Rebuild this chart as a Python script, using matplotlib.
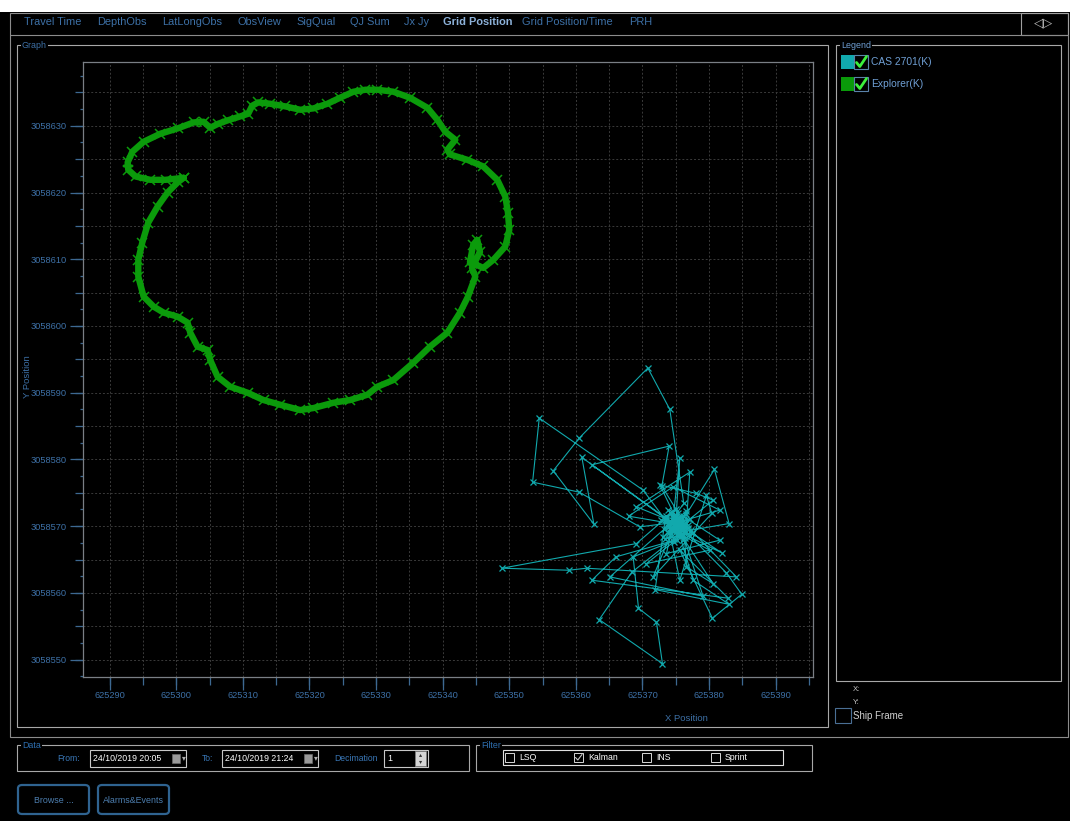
import numpy as np
import matplotlib.pyplot as plt
from matplotlib.patches import Rectangle, FancyBboxPatch
from matplotlib.lines import Line2D
from matplotlib.ticker import MultipleLocator, FormatStrFormatter

plt.rcParams['font.family'] = ['Liberation Sans', 'DejaVu Sans']

# Explorer(K) track, easting / northing in metres
exp_e = [
    625301.1, 625298.4, 625296.1, 625293.9, 625292.8, 625292.7, 625293.4, 625295.1, 625297.6, 625300.2,
    625302.6, 625304.1, 625305.1, 625306.3, 625307.7, 625309.6, 625310.8, 625311.4, 625312.3, 625314.1,
    625316.4, 625318.6, 625320.6, 625322.7, 625324.6, 625326.6, 625328.4, 625330.2, 625332.6, 625335.1,
    625337.7, 625339.2, 625340.4, 625341.9, 625340.7, 625341.1, 625343.7, 625346.1, 625348.2, 625349.4,
    625349.8, 625350.0, 625349.4, 625347.6, 625346.1, 625344.1, 625344.6, 625345.2, 625345.6, 625344.4,
    625344.9, 625343.8, 625342.6, 625340.7, 625338.1, 625335.6, 625332.6, 625330.2, 625328.7, 625326.1,
    625323.6, 625320.6, 625318.6, 625315.6, 625313.1, 625310.7, 625308.1, 625306.2, 625305.1, 625304.7,
    625303.2, 625302.1, 625301.7, 625300.2, 625298.1, 625296.6, 625295.1, 625294.3, 625294.3, 625294.9,
    625295.8, 625297.2, 625298.7, 625300.2, 625301.1]
exp_n = [
    3058622.2, 3058621.9, 3058621.9, 3058622.4, 3058623.4, 3058624.5, 3058626.1, 3058627.6, 3058628.8, 3058629.6,
    3058630.5, 3058630.6, 3058629.7, 3058630.3, 3058630.8, 3058631.4, 3058631.8, 3058633.0, 3058633.5, 3058633.3,
    3058632.9, 3058632.4, 3058632.6, 3058633.3, 3058634.2, 3058635.1, 3058635.4, 3058635.4, 3058635.1, 3058634.2,
    3058632.7, 3058630.9, 3058629.1, 3058627.9, 3058626.4, 3058625.7, 3058624.9, 3058623.9, 3058621.9, 3058619.4,
    3058617.0, 3058614.4, 3058611.9, 3058609.9, 3058608.7, 3058609.6, 3058612.2, 3058612.9, 3058611.1, 3058608.7,
    3058607.4, 3058604.4, 3058602.0, 3058599.0, 3058596.9, 3058594.5, 3058591.9, 3058590.9, 3058589.7, 3058588.9,
    3058588.5, 3058587.7, 3058587.4, 3058588.2, 3058588.9, 3058590.0, 3058590.9, 3058592.4, 3058594.9, 3058596.4,
    3058596.9, 3058599.0, 3058600.5, 3058601.4, 3058602.0, 3058602.9, 3058604.4, 3058607.4, 3058609.9, 3058612.5,
    3058615.5, 3058617.9, 3058620.0, 3058621.5, 3058622.2]

# CAS 2701(K) fixes
cas_e = [
    625375.1, 625373.1, 625376.6, 625374.2, 625362.4, 625374.0, 625372.9, 625375.8, 625373.9, 625377.0,
    625360.9, 625362.7, 625356.6, 625360.5, 625370.8, 625374.1, 625376.2, 625374.6, 625375.6, 625374.9,
    625370.1, 625354.5, 625353.5, 625360.5, 625369.6, 625375.9, 625380.8, 625383.0, 625377.3, 625374.3,
    625369.1, 625348.9, 625358.9, 625361.6, 625384.1, 625376.4, 625374.7, 625368.4, 625363.5, 625373.0,
    625372.1, 625369.4, 625368.6, 625375.2, 625366.0, 625362.4, 625382.9, 625375.6, 625380.5, 625384.9,
    625382.6, 625374.8, 625365.1, 625379.1, 625376.0, 625381.9, 625373.5, 625371.9, 625383.0, 625377.6,
    625375.3, 625380.6, 625378.1, 625372.6, 625375.5, 625367.9, 625374.6, 625381.6, 625375.0, 625369.1,
    625377.1, 625376.5, 625370.6, 625380.1, 625374.4, 625373.6, 625381.6, 625376.1, 625376.6, 625380.6,
    625374.8, 625371.6, 625380.4, 625379.6, 625375.6, 625374.1, 625376.3, 625373.9, 625375.7, 625374.5,
    625376.9, 625373.2, 625375.4, 625374.2, 625377.2, 625374.8, 625373.6, 625376.4, 625375.1, 625372.8,
    625376.8, 625374.3, 625375.9, 625373.9, 625376.1, 625374.6, 625377.5, 625373.4, 625375.5, 625374.0,
    625376.6, 625375.2, 625373.8, 625376.2, 625374.9, 625375.6, 625374.4, 625375.8, 625374.7, 625375.3]
cas_n = [
    3058569.9, 3058568.4, 3058571.8, 3058570.6, 3058579.2, 3058582.0, 3058576.0, 3058571.3, 3058569.2, 3058568.7,
    3058580.3, 3058570.3, 3058578.3, 3058583.2, 3058593.7, 3058587.5, 3058573.4, 3058571.2, 3058580.2, 3058569.0,
    3058575.4, 3058586.2, 3058576.6, 3058575.1, 3058569.9, 3058570.7, 3058578.5, 3058570.4, 3058569.4, 3058571.9,
    3058567.4, 3058563.7, 3058563.4, 3058563.7, 3058562.4, 3058570.3, 3058568.1, 3058563.1, 3058556.0, 3058549.4,
    3058555.6, 3058557.7, 3058565.4, 3058568.0, 3058565.4, 3058561.9, 3058559.2, 3058566.4, 3058556.2, 3058559.8,
    3058563.0, 3058570.9, 3058562.4, 3058559.5, 3058568.9, 3058566.0, 3058571.6, 3058560.5, 3058558.3, 3058561.9,
    3058569.6, 3058573.9, 3058574.9, 3058576.2, 3058570.2, 3058571.5, 3058575.9, 3058572.4, 3058570.5, 3058572.9,
    3058578.1, 3058569.1, 3058564.4, 3058566.4, 3058569.5, 3058565.9, 3058567.9, 3058571.5, 3058563.9, 3058561.4,
    3058570.2, 3058562.4, 3058571.9, 3058574.6, 3058561.9, 3058569.1, 3058570.8, 3058570.3, 3058568.4, 3058572.1,
    3058569.7, 3058569.6, 3058571.9, 3058568.7, 3058571.1, 3058567.6, 3058571.3, 3058568.2, 3058572.6, 3058570.9,
    3058570.2, 3058569.4, 3058569.3, 3058572.4, 3058567.9, 3058571.0, 3058569.0, 3058568.1, 3058570.9, 3058570.0,
    3058572.3, 3058568.9, 3058569.9, 3058569.6, 3058571.4, 3058569.8, 3058570.4, 3058570.6, 3058569.7, 3058571.1]

tabs = ['Travel Time', 'DepthObs', 'LatLongObs', 'ObsView', 'SigQual', 'QJ Sum',
        'Jx Jy', 'Grid Position', 'Grid Position/Time', 'PRH']
tab_x = [24, 97, 162, 237, 296, 350, 404, 443, 522, 629]
active_tab = 'Grid Position'
legend_names = ['CAS 2701(K)', 'Explorer(K)']
filters = ['LSQ', 'Kalman', 'INS', 'Sprint']
filter_on = [False, True, False, False]
date_from = '24/10/2019 20:05'
date_to = '24/10/2019 21:24'

CYAN = '#11a9ad'
GREEN = '#0b9b0b'
BLUE = '#3d70a6'
TICK = '#3d6891'
FRAME = '#9a9a9a'

W, H = 1070, 821
fig = plt.figure(figsize=(W / 100, H / 100), dpi=100, facecolor='black')


def fx(x):
    return x / W


def fy(y):
    return 1 - y / H


def rect(x0, y0, x1, y1, ec=FRAME, fc='none', lw=0.8, z=1):
    fig.add_artist(Rectangle((fx(x0), fy(y1)), (x1 - x0) / W, (y1 - y0) / H,
                             transform=fig.transFigure, ec=ec, fc=fc, lw=lw, zorder=z))


def poly(xs, ys, color, lw=0.8, z=2):
    fig.add_artist(Line2D([fx(x) for x in xs], [fy(y) for y in ys],
                          transform=fig.transFigure, color=color, lw=lw, zorder=z,
                          solid_capstyle='round', solid_joinstyle='round'))


def text(x, y, s, color, size, ha='left', **kw):
    fig.text(fx(x), fy(y), s, color=color, fontsize=size, ha=ha, va='center', **kw)


def group(x0, y0, x1, y1, title, tcolor):
    rect(x0, y0, x1, y1, ec='#a8a8a8')
    text(x0 + 5, y0, title, tcolor, 6.4, zorder=4,
         bbox=dict(fc='black', ec='none', pad=0.8))


# window chrome
rect(0, 0, W, 12, ec='none', fc='white', z=0)
rect(10, 13, 1068, 737, ec='#8c8c8c')
poly([10, 1068], [35, 35], '#8c8c8c')
rect(1021, 13, 1068, 35, ec='#a0a0a0')
text(1044, 23, '\u25c1\u25b7', '#b4b4b4', 9, ha='center', family='DejaVu Sans')
for name, x in zip(tabs, tab_x):
    if name == active_tab:
        text(x, 22, name, '#8db2da', 7.9, fontweight='bold')
    else:
        text(x, 22, name, BLUE, 7.9)

group(17, 45, 828, 727, 'Graph', BLUE)
group(836, 45, 1061, 681, 'Legend', '#6f9fd4')

# plot area
ax = fig.add_axes([fx(83), fy(677), (813 - 83) / W, (677 - 61.7) / H])
ax.set_facecolor('black')
ax.plot(exp_e, exp_n, color=GREEN, lw=4.6, marker='x', ms=7, mew=1.1,
        solid_joinstyle='round', solid_capstyle='round')
ax.plot(cas_e, cas_n, color=CYAN, lw=0.8, marker='x', ms=4.5, mew=0.9)
ax.set_xlim(625286.0, 625395.6)
ax.set_ylim(3058547.4, 3058639.6)

ax.xaxis.set_major_locator(MultipleLocator(5))
ax.yaxis.set_major_locator(MultipleLocator(5))
ax.yaxis.set_minor_locator(MultipleLocator(2.5))
ax.tick_params(which='major', length=5.8, width=0.9, color=TICK,
               labelbottom=False, labelleft=False)
ax.tick_params(which='minor', length=2.4, width=0.9, color=TICK)
ax.grid(True, which='major', color='#3a3a3a', ls=(0, (2, 2)), lw=0.7)
for sp in ax.spines.values():
    sp.set_color('#7a7f85')
    sp.set_linewidth(0.9)

sx = ax.secondary_xaxis('bottom')
sx.xaxis.set_major_locator(MultipleLocator(10))
sx.xaxis.set_major_formatter(FormatStrFormatter('%d'))
sx.tick_params(length=9.4, width=0.9, color=TICK, labelcolor=BLUE, labelsize=6.7, pad=1)
sx.spines['bottom'].set_visible(False)

sy = ax.secondary_yaxis('left')
sy.yaxis.set_major_locator(MultipleLocator(10))
sy.yaxis.set_major_formatter(FormatStrFormatter('%d'))
sy.tick_params(length=9.4, width=0.9, color=TICK, labelcolor=BLUE, labelsize=6.7, pad=2.2)
sy.spines['left'].set_visible(False)

text(27, 377, 'Y Position', BLUE, 6.8, ha='center', rotation=90)
text(686, 718, 'X Position', BLUE, 6.8, ha='center')

# legend entries
for i, (name, col) in enumerate(zip(legend_names, [CYAN, '#0a9a0a'])):
    y0 = 55 + 22 * i
    rect(841, y0, 855, y0 + 14, ec='none', fc=col)
    rect(854, y0, 868, y0 + 14, ec='#5a82aa', fc='black', z=2)
    poly([856.5, 859.8, 866.5], [y0 + 7.5, y0 + 11.5, y0 + 1.5], '#3cf03c', lw=2.0, z=3)
    text(871, y0 + 7, name, '#6f9fd4', 7.4)

text(853, 689, 'X:', '#c8c8c8', 5.5)
text(853, 702, 'Y:', '#c8c8c8', 5.5)
rect(835, 708, 851, 723, ec='#4a6f95')
text(853, 716, 'Ship Frame', '#d0d0d0', 7)

# data range controls
group(17, 745, 469, 771, 'Data', '#2e6fb0')
text(80, 758, 'From:', '#3a78b8', 6.2, ha='right')
text(213, 758, 'To:', '#3a78b8', 6.2, ha='right')
for x0, s in [(90, date_from), (222, date_to)]:
    rect(x0, 750, x0 + 96, 767, ec='#c8c8c8', fc='black')
    text(x0 + 3, 758.5, s, 'white', 6.3)
    rect(x0 + 82, 754, x0 + 90, 763, ec='#6a6a6a', fc='#9a9a9a', lw=0.5, z=2)
    text(x0 + 94, 758, '\u25be', '#b0b0b0', 5.5, ha='center', family='DejaVu Sans')
text(378, 758, 'Decimation', '#3a78b8', 6.2, ha='right')
rect(384, 750, 428, 767, ec='#c8c8c8', fc='black')
text(387, 758.5, '1', 'white', 6.3)
rect(415, 751, 426, 766, ec='#808080', fc='#d4d4d4', lw=0.5, z=2)
text(420.5, 755, '\u25b4', '#303030', 4.5, ha='center', family='DejaVu Sans', zorder=4)
text(420.5, 762, '\u25be', '#303030', 4.5, ha='center', family='DejaVu Sans', zorder=4)

# solution filter
group(476, 745, 812, 771, 'Filter', '#2e6fb0')
rect(503, 750, 783, 765, ec='#e0e0e0', fc='black')
for name, on, x0 in zip(filters, filter_on, [505, 574, 642, 711]):
    rect(x0, 753, x0 + 9, 762, ec='#d8d8d8', lw=0.7, z=2)
    if on:
        poly([x0 + 1.5, x0 + 3.8, x0 + 8], [757.5, 760, 754.5], '#c8c8c8', lw=0.8, z=3)
    text(x0 + 14, 757.5, name, 'white', 6.3)

# buttons
for x0, label in [(16, 'Browse ...'), (96, 'Alarms&Events')]:
    fig.add_artist(FancyBboxPatch((fx(x0 + 2), fy(814)), 71 / W, 29 / H,
                                  boxstyle='round,pad=0,rounding_size=0.004',
                                  transform=fig.transFigure, ec='#2f6390', fc='black', lw=1.6))
    text(x0 + 37.5, 800, label, '#4d7fb0', 6.4, ha='center')

fig.savefig('out.png', dpi=100, facecolor='black')
